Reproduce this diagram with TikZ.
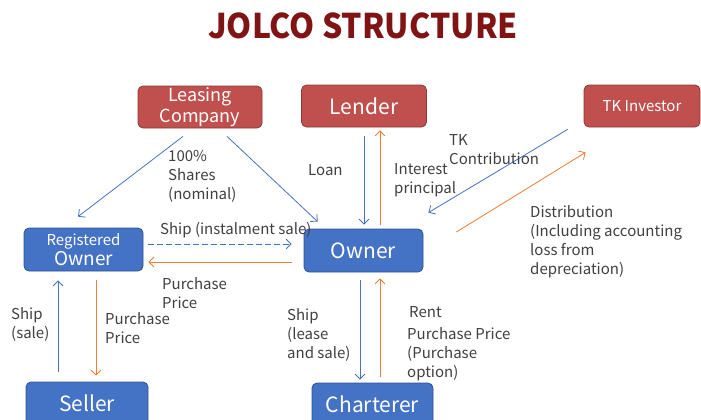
\documentclass[tikz,border=0pt]{standalone}
\usepackage{fontspec}
\setmainfont{Noto Sans CJK JP}
\newfontfamily\titlefont{Noto Sans CJK JP}
\usetikzlibrary{arrows.meta,calc}

\definecolor{boxred}{HTML}{C0504D}
\definecolor{edgered}{HTML}{8C3836}
\definecolor{boxblue}{HTML}{4472C4}
\definecolor{edgeblue}{HTML}{2F528F}
\definecolor{flowblue}{HTML}{4472C4}
\definecolor{floworange}{HTML}{ED7D31}
\definecolor{titlered}{RGB}{128,20,20}
\definecolor{labelgray}{HTML}{404040}

\begin{document}
\begin{tikzpicture}[x=1pt,y=-1pt,
  party/.style={rounded corners=5pt, line width=0.8pt, inner sep=0pt, text=white, align=center},
  redbox/.style={party, fill=boxred, draw=edgered},
  bluebox/.style={party, fill=boxblue, draw=edgeblue},
  flow/.style={line width=0.8pt, -{Straight Barb[length=5pt,width=10pt]}},
  bflow/.style={flow, draw=flowblue},
  oflow/.style={flow, draw=floworange},
  % multi-line labels: the base anchor sits on the last line
  lbl/.style={anchor=base west, inner sep=0pt, text=labelgray,
              font=\fontsize{15}{19}\selectfont, align=left},
]
\useasboundingbox (0,0) rectangle (701,420);

% title
\node[anchor=base, text=titlered, font=\titlefont\bfseries\fontsize{34}{40}\selectfont]
  (title) at (363,38) {\scalebox{0.94}[1]{JOLCO STRUCTURE}};

% parties
\node[redbox, minimum width=124pt, minimum height=42pt, font=\fontsize{18}{21}\selectfont]
  (lc) at (200,107) {Leasing\\Company};
\node[redbox, minimum width=125pt, minimum height=42pt, font=\fontsize{21}{24}\selectfont]
  (ld) at (364,106) {Lender};
\node[redbox, minimum width=116pt, minimum height=42pt, font=\fontsize{15}{18}\selectfont]
  (tk) at (642,106) {TK Investor};
\node[bluebox, minimum width=119pt, minimum height=43pt]
  (ro) at (83.5,249.5) {{\fontsize{15}{17}\selectfont Registered}\\[1pt]{\fontsize{19}{21}\selectfont Owner}};
\node[bluebox, minimum width=119pt, minimum height=43pt, font=\fontsize{21}{24}\selectfont]
  (ow) at (363.5,250.5) {Owner};
\node[bluebox, minimum width=122pt, minimum height=43pt, font=\fontsize{21}{24}\selectfont]
  (se) at (87,403.5) {Seller};
\node[bluebox, minimum width=121pt, minimum height=43pt, font=\fontsize{21}{24}\selectfont]
  (ch) at (372.5,404.5) {Charterer};

% flows from the leasing company
\draw[bflow] ($(lc.south)+(-17,8)$) -- ($(ro.north)+(-5.5,-11)$);
\draw[bflow] ($(lc.south)+(27,8)$) -- ($(ow.north west)+(14,-7)$);

% lender
\draw[bflow] ($(ld.south)+(0,9)$) -- ($(ow.north)+(0.5,-4)$);
\draw[oflow] ($(ow.north)+(16.5,-4)$) -- ($(ld.south)+(16,3)$);

% TK investor
\draw[bflow] ($(tk.south west)+(-16,2)$) -- ($(ow.north east)+(5,-16)$);
\draw[oflow] ($(ow.east)+(33,-18.5)$) -- ($(tk.south west)+(2,25)$);

% registered owner and owner
\draw[bflow, dash pattern=on 6pt off 3pt] ($(ro.east)+(5,-5.5)$) -- ($(ow.west)+(-12,-6.5)$);
\draw[oflow] ($(ow.west)+(-12,11.5)$) -- ($(ro.east)+(5,12.5)$);

% seller
\draw[bflow] ($(se.north)+(-29,-10)$) -- ($(ro.south)+(-25.5,9)$);
\draw[oflow] ($(ro.south)+(12.5,9)$) -- ($(se.north)+(9,-6)$);

% charterer
\draw[bflow] ($(ow.south)+(-3.5,8)$) -- ($(ch.north)+(-12.5,-3)$);
\draw[oflow] ($(ch.north)+(7.5,-6)$) -- ($(ow.south)+(16.5,6)$);

% labels
\node[lbl] (shares) at (168,199) {100\%\\Shares\\(nominal)};
\node[lbl] (loan) at (308,175) {Loan};
\node[lbl] (interest) at (394,193) {Interest\\principal};
\node[lbl] (contrib) at (449,164) {TK\\Contribution};
\node[lbl] (distr) at (530,274) {Distribution\\(Including accounting\\loss from\\depreciation)};
\node[lbl] (instal) at (160,234) {Ship (instalment sale)};
\node[lbl] (pp1) at (162,308) {Purchase\\Price};
\node[lbl] (shipsale) at (11,338) {Ship\\(sale)};
\node[lbl] (pp2) at (105,343) {Purchase\\Price};
\node[lbl] (shiplease) at (287,358) {Ship\\(lease\\and sale)};
\node[lbl] (rent) at (409,317) {Rent};
\node[lbl] (ppopt) at (407,377) {Purchase Price\\(Purchase\\option)};
\end{tikzpicture}
\end{document}
